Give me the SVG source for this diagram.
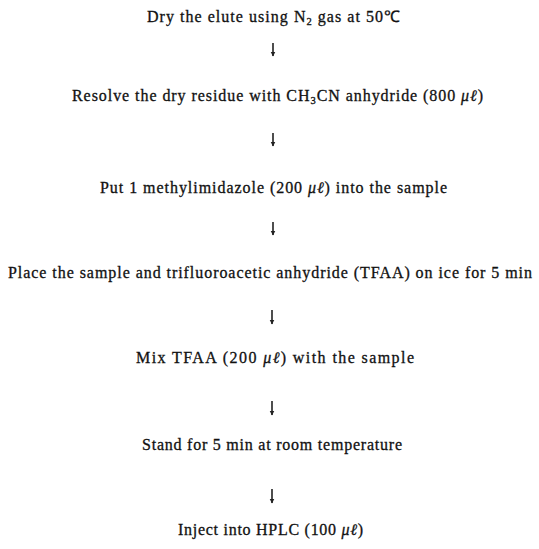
<svg xmlns="http://www.w3.org/2000/svg" width="539" height="549" viewBox="0 0 539 549">
<style>
.t{font-family:"Liberation Serif","Times New Roman",serif;font-size:16px;fill:#111;stroke:#111;stroke-width:0.3;}
.s{font-size:10.5px;}
.i{font-style:italic;}
.c line{stroke:#222;stroke-width:1.6;}
</style>
<defs>
<marker id="ah" viewBox="0 0 10 10" refX="9" refY="5" markerWidth="5" markerHeight="6" orient="auto" markerUnits="userSpaceOnUse">
<path d="M0,0 L10,5 L0,10 Z" fill="#222"/>
</marker>
</defs>
<rect width="539" height="549" fill="#fff"/>
<g id="step1"><text class="t" x="147" y="22" textLength="253" lengthAdjust="spacing">Dry the elute using N<tspan class="s" dy="3">2</tspan><tspan dy="-3"> gas at 50℃</tspan></text></g>
<g id="step2"><text class="t" x="72" y="101" textLength="411" lengthAdjust="spacing">Resolve the dry residue with CH<tspan class="s" dy="3">3</tspan><tspan dy="-3">CN anhydride (800 </tspan><tspan class="i">μℓ</tspan>)</text></g>
<g id="step3"><text class="t" x="100" y="193" textLength="347" lengthAdjust="spacing">Put 1 methylimidazole (200 <tspan class="i">μℓ</tspan>) into the sample</text></g>
<g id="step4"><text class="t" x="8" y="278" textLength="524" lengthAdjust="spacing">Place the sample and trifluoroacetic anhydride (TFAA) on ice for 5 min</text></g>
<g id="step5"><text class="t" x="136" y="363" textLength="278" lengthAdjust="spacing">Mix TFAA  (200 <tspan class="i">μℓ</tspan>) with the sample</text></g>
<g id="step6"><text class="t" x="142" y="450" textLength="260" lengthAdjust="spacing">Stand for 5 min at room temperature</text></g>
<g id="step7"><text class="t" x="178" y="535" textLength="185" lengthAdjust="spacing">Inject into HPLC (100 <tspan class="i">μℓ</tspan>)</text></g>
<g id="connectors" class="c">
<line x1="273" y1="43" x2="273" y2="56" marker-end="url(#ah)"/>
<line x1="273" y1="133" x2="273" y2="146" marker-end="url(#ah)"/>
<line x1="273" y1="222" x2="273" y2="235" marker-end="url(#ah)"/>
<line x1="272" y1="310" x2="272" y2="324" marker-end="url(#ah)"/>
<line x1="272" y1="401" x2="272" y2="415" marker-end="url(#ah)"/>
<line x1="272" y1="489" x2="272" y2="503" marker-end="url(#ah)"/>
</g>
</svg>
